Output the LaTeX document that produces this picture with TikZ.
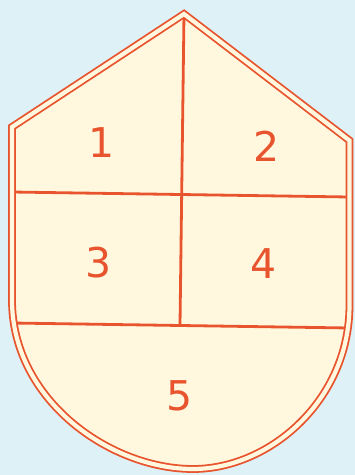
\documentclass[tikz,border=0pt]{standalone}
\usepackage{fontspec}
\setmainfont{DejaVu Sans}
\definecolor{bg}{RGB}{222,241,247}
\definecolor{cream}{RGB}{255,248,222}
\definecolor{ink}{RGB}{232,84,46}
\begin{document}
\begin{tikzpicture}[x=1pt,y=-1pt,
  divider/.style={draw=ink,line width=2.8pt},
  outline/.style={draw=ink,line width=1.8pt,double=cream,double distance=4.2pt,line join=miter},
  num/.style={text=ink,font=\fontsize{41}{41}\selectfont,inner sep=0pt}]
\fill[bg] (0,0) rectangle (355,475);
\useasboundingbox (0,0) rectangle (355,475);
\coordinate (peak) at (184,14);
\coordinate (lc) at (12,127);
\coordinate (ls) at (12,300);
\coordinate (bot) at (193,469);
\coordinate (rs) at (349.5,305);
\coordinate (rc) at (349.5,140.5);
\coordinate (h1l) at (12,192);
\coordinate (h1r) at (349.5,197);
\coordinate (h2l) at (12,323);
\coordinate (h2r) at (349.5,328);
\coordinate (vb) at (180,325);
\fill[cream] (peak) -- (lc) -- (ls) .. controls (12,400) and (110,469) .. (bot)
  .. controls (270,469) and (349.5,400) .. (rs) -- (rc) -- cycle;
\draw[divider] (h1l) -- (h1r);
\draw[divider] (h2l) -- (h2r);
\draw[divider] (peak) -- (vb);
\draw[outline] (peak) -- (lc) -- (ls) .. controls (12,400) and (110,469) .. (bot)
  .. controls (270,469) and (349.5,400) .. (rs) -- (rc) -- cycle;
\node[num] (n1) at (102,143) {1};
\node[num] (n2) at (267,146.5) {2};
\node[num] (n3) at (99,263) {3};
\node[num] (n4) at (264,264) {4};
\node[num] (n5) at (180,396) {5};
\end{tikzpicture}
\end{document}
